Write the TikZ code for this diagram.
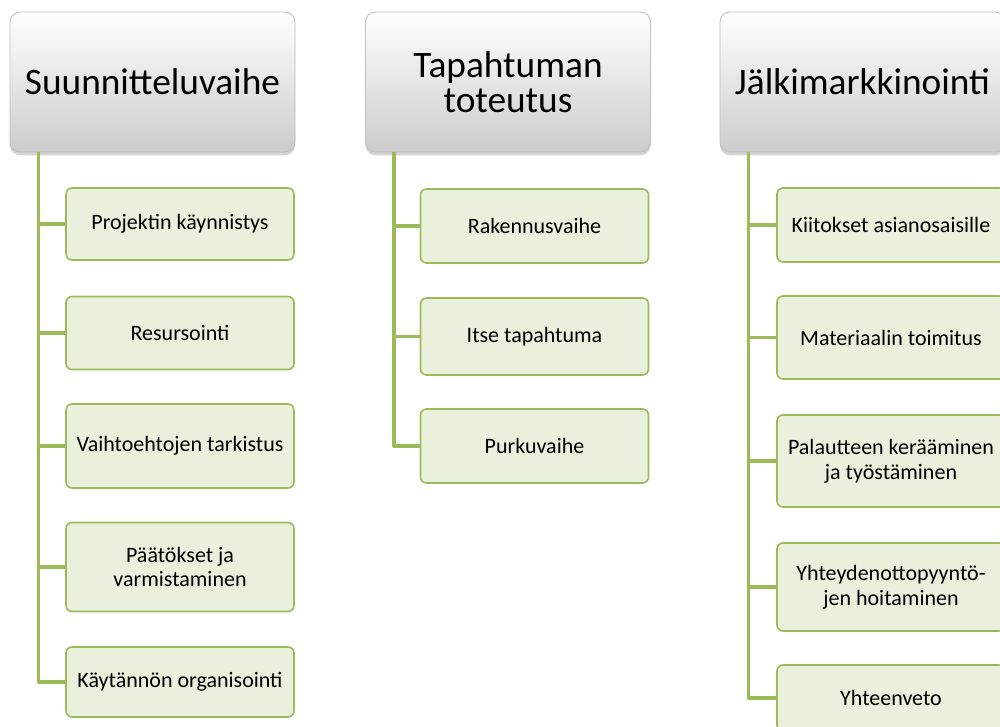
\documentclass[tikz,border=0pt]{standalone}
\usepackage{fontspec}
\setmainfont{Carlito}
\usetikzlibrary{shadows,calc}
\definecolor{leafgreen}{RGB}{155,187,89}
\definecolor{leaffill}{RGB}{233,240,220}
\begin{document}
\begin{tikzpicture}[x=.75pt, y=-.75pt, line join=round, line cap=round,
	head/.style={draw=black!25, line width=.6pt, rounded corners=7.5pt, top color=white, bottom color=black!20,
		drop shadow={shadow xshift=0pt, shadow yshift=-2.5pt, opacity=.35},
		minimum width=213.75pt, minimum height=105pt, inner sep=0pt, align=center,
		font=\fontsize{28}{26}\selectfont},
	item/.style={draw=leafgreen, line width=1.2pt, fill=leaffill, rounded corners=4.5pt,
		minimum width=171pt, inner sep=0pt, align=center, font=\fontsize{16.5}{18.5}\selectfont},
	link/.style={draw=leafgreen, line width=2.6pt, line cap=butt}]
	\useasboundingbox (0,0) rectangle (1000,727);
	\clip (0,0) rectangle (1000,727);
	% otsikot
	\node[head] (h1) at (152.5,82) {Suunnitteluvaihe};
	\node[head] (h2) at (508,82) {Tapahtuman\\toteutus};
	\node[head] (h3) at (862.5,82) {Jälkimarkkinointi};
	\foreach \k in {1,2,3} \coordinate (t\k) at ($(h\k.south west)+(29,0)$);
	% alakohdat
	\foreach \n/\y/\h/\t in {1/224/72/{Projektin käynnistys}, 2/333/73/{Resursointi},
		3/446/84/{Vaihtoehtojen tarkistus}, 4/567/89/{Päätökset ja\\varmistaminen},
		5/682/70/{Käytännön organisointi}}
		\node[item, minimum height=\h*.75pt] (a\n) at (180,\y) {\t};
	\foreach \n/\y/\h/\t in {1/226/74/{Rakennusvaihe}, 2/336.5/77/{Itse tapahtuma}, 3/446/74/{Purkuvaihe}}
		\node[item, minimum height=\h*.75pt] (b\n) at (534.5,\y) {\t};
	\foreach \n/\y/\h/\t in {1/225/74/{Kiitokset asianosaisille}, 2/337.5/83/{Materiaalin toimitus},
		3/461/92/{Palautteen kerääminen\\ja työstäminen}, 4/587/88/{Yhteydenottopyyntö-\\jen hoitaminen},
		5/698/66/{Yhteenveto}}
		\node[item, minimum height=\h*.75pt] (c\n) at (891,\y) {\t};
	% yhteydet
	\draw[link] (t1) |- (a5.west);
	\foreach \n in {1,...,4} \draw[link] (a\n.west) -- (a\n.west -| t1);
	\draw[link] (t2) |- (b3.west);
	\foreach \n in {1,2} \draw[link] (b\n.west) -- (b\n.west -| t2);
	\draw[link] (t3) |- (c5.west);
	\foreach \n in {1,...,4} \draw[link] (c\n.west) -- (c\n.west -| t3);
\end{tikzpicture}
\end{document}
